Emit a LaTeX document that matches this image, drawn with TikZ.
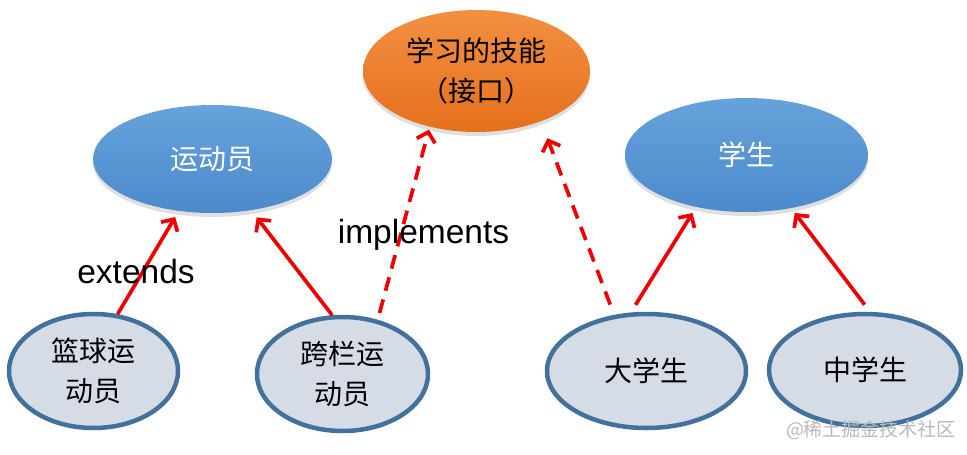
\documentclass[tikz,border=0pt]{standalone}
\usepackage{fontspec}
\setmainfont{Liberation Sans}
\newfontfamily\cjk{Noto Sans CJK SC}
\usepackage{xcolor}
\usepackage{tikz}
\usetikzlibrary{
  arrows.meta,
  shapes.geometric,
  shadows
}

\definecolor{blueTop}{HTML}{66A2DB}
\definecolor{blueBot}{HTML}{4C8ACC}
\definecolor{orangeTop}{HTML}{F38F42}
\definecolor{orangeBot}{HTML}{E5701C}
\definecolor{childFill}{HTML}{D6DCE6}
\definecolor{childEdge}{HTML}{41719C}
\definecolor{arrowRed}{HTML}{F00000}

\begin{document}
\begin{tikzpicture}[
  x=1pt, y=-1pt,
  cjkfont/.style={font=\cjk\fontsize{28}{40}\selectfont},
  parentbox/.style={
    ellipse, cjkfont, inner sep=0pt, align=center,
    drop shadow={opacity=0.25, shadow xshift=0pt, shadow yshift=-4pt}
  },
  classbox/.style={parentbox, top color=blueTop, bottom color=blueBot, text=white},
  ifacebox/.style={parentbox, top color=orangeTop, bottom color=orangeBot, text=black},
  childbox/.style={
    ellipse, cjkfont, inner sep=0pt, align=center,
    draw=childEdge, fill=childFill, line width=4.5pt, text=black
  },
  isa/.style={draw=arrowRed, line width=3.7pt, -{Straight Barb[length=9pt, width=19pt]}},
  impl/.style={isa, dash pattern=on 14pt off 9pt},
  relname/.style={font=\fontsize{33.5}{40}\selectfont, anchor=base}
]
  \useasboundingbox (0,0) rectangle (967,455);

  % parents
  \node[ifacebox, minimum width=227pt, minimum height=122pt] (skill) at (476.5,71)
    {学习的技能\\（接口）};
  \node[classbox, minimum width=239pt, minimum height=108pt] (athlete) at (212.5,159) {运动员};
  \node[classbox, minimum width=243pt, minimum height=114pt] (student) at (746.5,155) {学生};

  % children
  \node[childbox, minimum width=169pt, minimum height=114pt] (basketball) at (93.5,371)
    {篮球运\\动员};
  \node[childbox, minimum width=171pt, minimum height=114pt] (hurdler) at (342.5,374)
    {跨栏运\\动员};
  \node[childbox, minimum width=199pt, minimum height=114pt] (college) at (646.5,371) {大学生};
  \node[childbox, minimum width=192pt, minimum height=112pt] (middle) at (865,370) {中学生};

  % inheritance
  \draw[isa, shorten >=7pt] (basketball.67) -- (athlete.237);
  \draw[isa, shorten >=9pt] (hurdler.100) -- (athlete.307);
  \draw[isa, shorten <=9pt, shorten >=7pt] (college.105) -- (student.226);
  \draw[isa, shorten <=9pt, shorten >=6pt] (middle.85) -- (student.310);

  % realisation
  \draw[impl, shorten <=7pt, shorten >=3pt] (hurdler.57) -- (skill.230);
  \draw[impl, shorten <=11pt, shorten >=18pt] (college.120) -- (skill.322);

  \node[relname] (extends) at (136,283) {extends};
  \node[relname] (implements) at (423.5,243) {implements};

  \node[font=\cjk\fontsize{19}{19}\selectfont, text=gray!55] (mark) at (871,430)
    {@稀土掘金技术社区};
\end{tikzpicture}
\end{document}
